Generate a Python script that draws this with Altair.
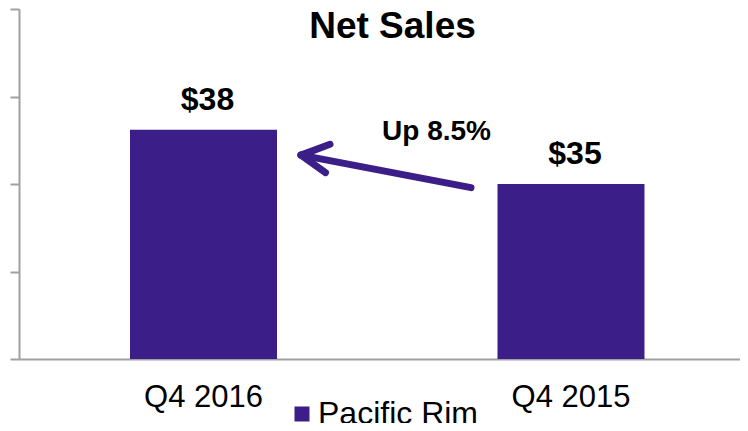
import altair as alt
import pandas as pd

# ---- data ----
title_text = "Net Sales"
categories = ["Q4 2016", "Q4 2015"]
net_sales = [38.1, 35.0]
value_labels = ["$38", "$35"]
series_name = "Pacific Rim"
y_ticks = [25, 30, 35, 40, 45]

# annotation (overlay x in 0..2 units across the plot, y in sales units)
arrow_shaft_x = [1.2538, 0.7822]
arrow_shaft_y = [34.79, 36.65]
arrow_arm_x = [0.8627, 0.8502]
arrow_arm_y = [37.27, 35.65]
note_text = "Up 8.5%"
note_x = 1.1581
note_y = 37.49

bar_color = "#3B1E88"
axis_gray = "#A0A0A0"
FONT = "Liberation Sans"

W, H = 721, 350

bars_df = pd.DataFrame({
    "quarter": categories,
    "sales": net_sales,
    "label": value_labels,
    "series": [series_name] * len(categories),
})

shaft_df = pd.DataFrame({
    "x": [arrow_shaft_x[0]], "x2": [arrow_shaft_x[1]],
    "y": [arrow_shaft_y[0]], "y2": [arrow_shaft_y[1]],
})
arms_df = pd.DataFrame({
    "x": [arrow_shaft_x[1]] * 2, "x2": arrow_arm_x,
    "y": [arrow_shaft_y[1]] * 2, "y2": arrow_arm_y,
})
note_df = pd.DataFrame({"x": [note_x], "y": [note_y], "t": [note_text]})
title_df = pd.DataFrame({"t": [title_text]})

y_scale = alt.Scale(domain=[y_ticks[0], y_ticks[-1]], zero=False, nice=False)
x_band = alt.X(
    "quarter:N", sort=None,
    scale=alt.Scale(paddingInner=0.6, paddingOuter=0.281, align=0.5375),
    axis=alt.Axis(title=None, labelAngle=0, labelFontSize=31, labelFont=FONT,
                  labelColor="black", ticks=False, tickSize=0, labelPadding=23,
                  domainColor=axis_gray, domainWidth=2, grid=False),
)

bars = alt.Chart(bars_df).mark_bar(color=bar_color).encode(
    x=x_band,
    y=alt.Y("sales:Q", scale=y_scale,
            axis=alt.Axis(values=y_ticks, labels=False, title=None, tickSize=9,
                          tickColor=axis_gray, tickWidth=2, domainColor=axis_gray,
                          domainWidth=2, grid=False)),
    y2=alt.Y2Datum(y_ticks[0]),
    color=alt.Color("series:N", scale=alt.Scale(range=[bar_color]),
                    legend=alt.Legend(title=None, orient="none", legendX=265, legendY=389,
                                      symbolType="square", symbolSize=225, symbolOffset=2,
                                      labelFontSize=32, labelFont=FONT, labelColor="black",
                                      labelLimit=400, labelOffset=0, padding=0,
                                      symbolStrokeWidth=0)),
)

labels = alt.Chart(bars_df).mark_text(
    fontSize=32, fontWeight="bold", font=FONT, baseline="alphabetic", dy=-20, dx=4, color="black"
).encode(
    x=x_band,
    y=alt.Y("sales:Q", scale=y_scale),
    text="label:N",
)

ox = alt.Scale(domain=[0, 2])

shaft = alt.Chart(shaft_df).mark_rule(color=bar_color, strokeWidth=7, strokeCap="round").encode(
    x=alt.X("x:Q", scale=ox, axis=None), x2="x2:Q",
    y=alt.Y("y:Q", scale=y_scale), y2="y2:Q",
)
arms = alt.Chart(arms_df).mark_rule(color=bar_color, strokeWidth=7, strokeCap="round").encode(
    x=alt.X("x:Q", scale=ox, axis=None), x2="x2:Q",
    y=alt.Y("y:Q", scale=y_scale), y2="y2:Q",
)
note = alt.Chart(note_df).mark_text(
    fontSize=28, fontWeight="bold", font=FONT, baseline="alphabetic", color="black"
).encode(
    x=alt.X("x:Q", scale=ox, axis=None),
    y=alt.Y("y:Q", scale=y_scale),
    text="t:N",
)

title = alt.Chart(title_df).mark_text(
    fontSize=37, fontWeight="bold", font=FONT, baseline="alphabetic", align="center", color="black"
).encode(
    x=alt.value(373.5),
    y=alt.value(29),
    text="t:N",
)

base = alt.layer(bars, labels).resolve_scale(x="shared")
over = alt.layer(shaft, arms, note)

chart = alt.layer(base, over, title).resolve_scale(x="independent").properties(
    width=W, height=H,
    autosize=alt.AutoSizeParams(type="none"),
    padding={"left": 11, "top": 1, "right": 0, "bottom": 64},
).configure_view(stroke=None)

chart.save("out.html", embed_options={"renderer": "svg", "actions": False})
